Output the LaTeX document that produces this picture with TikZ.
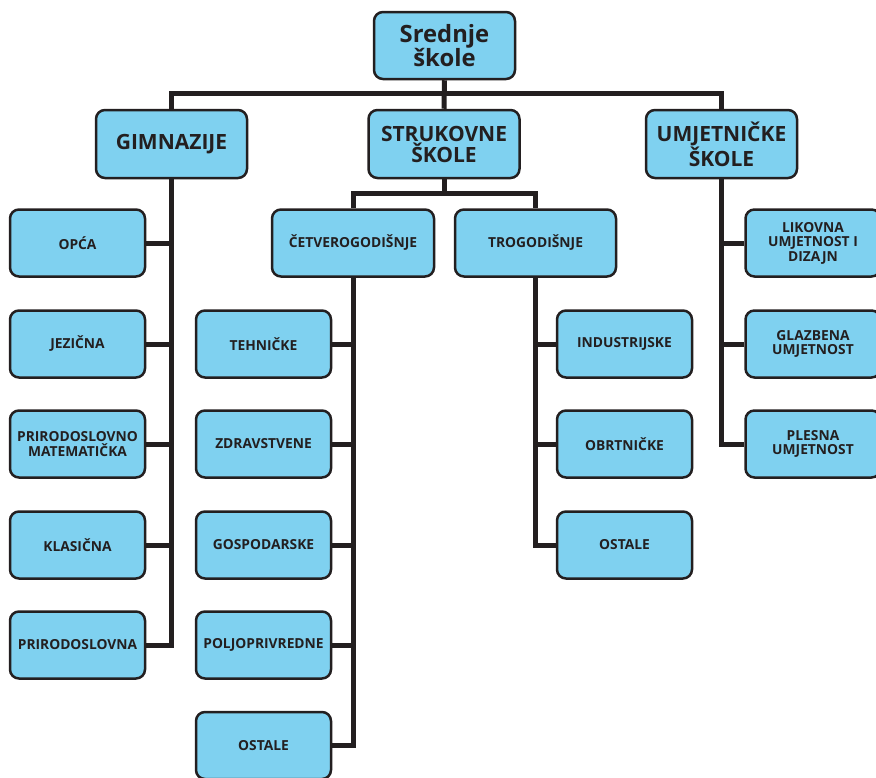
\documentclass[tikz,border=0pt]{standalone}
\usepackage{fontspec}
\setmainfont{Open Sans}
\definecolor{boxblue}{RGB}{127,209,240}
\definecolor{ink}{RGB}{35,31,32}
\tikzset{
  box/.style={draw=ink, line width=2.5pt, fill=boxblue, rounded corners=9pt,
    minimum width=135pt, minimum height=67pt, align=center, text=ink, inner sep=2pt,
    font=\fontsize{13.8}{14.5}\selectfont\bfseries},
  bigbox/.style={box, minimum width=151pt, minimum height=68pt,
    font=\fontsize{21}{21}\selectfont\bfseries},
  rootbox/.style={box, minimum width=141pt, minimum height=67pt,
    font=\fontsize{23.8}{24}\selectfont\bfseries},
  conn/.style={draw=ink, line width=5pt}
}
\begin{document}
\begin{tikzpicture}[x=1pt,y=-1pt]
\useasboundingbox (0,0) rectangle (876,777);
% connectors
\coordinate (hbar) at (444,93);
\coordinate (sbar) at (444,193);
\node[rootbox] (root) at (444.5,45.5) {Srednje\\škole};
\node[bigbox] (gim) at (171.5,144) {GIMNAZIJE};
\node[bigbox] (stru) at (444,144) {STRUKOVNE\\ŠKOLE};
\node[bigbox] (umj) at (721.5,144) {UMJETNIČKE\\ŠKOLE};
\node[box, minimum width=162pt] (cet) at (353,243) {ČETVEROGODIŠNJE};
\node[box, minimum width=161pt] (tro) at (535.5,243) {TROGODIŠNJE};
% gimnazije
\node[box] (opca) at (77.5,243) {OPĆA};
\node[box] (jez) at (77.5,344) {JEZIČNA};
\node[box] (prmat) at (77.5,444) {PRIRODOSLOVNO\\MATEMATIČKA};
\node[box] (klas) at (77.5,545) {KLASIČNA};
\node[box] (prir) at (77.5,645) {PRIRODOSLOVNA};
% cetverogodisnje
\node[box] (teh) at (263.5,344) {TEHNIČKE};
\node[box] (zdr) at (263.5,444) {ZDRAVSTVENE};
\node[box] (gos) at (263.5,545) {GOSPODARSKE};
\node[box] (pol) at (263.5,645) {POLJOPRIVREDNE};
\node[box] (ost) at (263.5,745.5) {OSTALE};
% trogodisnje
\node[box] (ind) at (624.5,344) {INDUSTRIJSKE};
\node[box] (obr) at (624.5,444) {OBRTNIČKE};
\node[box] (ost2) at (624.5,545) {OSTALE};
% umjetnicke
\node[box] (lik) at (813,243) {LIKOVNA\\UMJETNOST I\\DIZAJN};
\node[box] (glz) at (813,344) {GLAZBENA\\UMJETNOST};
\node[box] (ple) at (813,444) {PLESNA\\UMJETNOST};
% lines
\begin{scope}[conn]
\draw (root.south) -- (stru.north);
\draw (gim.north) |- (hbar) -| (umj.north);
\draw (stru.south) -- (sbar);
\draw (cet.north) |- (sbar) -| (tro.north);
\draw (gim.south) |- (prir.east);
\foreach \n in {opca,jez,prmat,klas} \draw (\n.east) -- (\n.east -| gim.south);
\draw (cet.south) |- (ost.east);
\foreach \n in {teh,zdr,gos,pol} \draw (\n.east) -- (\n.east -| cet.south);
\draw (tro.south) |- (ost2.west);
\foreach \n in {ind,obr} \draw (\n.west) -- (\n.west -| tro.south);
\draw (umj.south) |- (ple.west);
\foreach \n in {lik,glz} \draw (\n.west) -- (\n.west -| umj.south);
\end{scope}
\end{tikzpicture}
\end{document}
